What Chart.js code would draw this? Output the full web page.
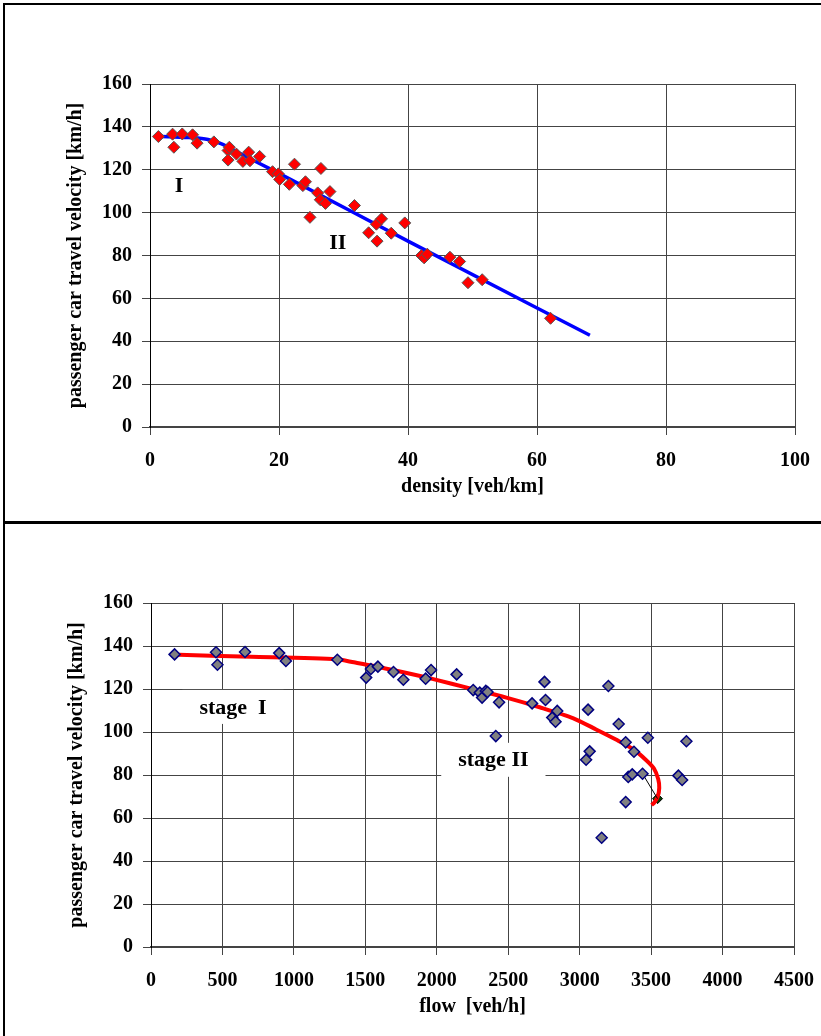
<!DOCTYPE html>
<html>
<head>
<meta charset="utf-8">
<script src="https://cdn.jsdelivr.net/npm/chart.js@4.4.0/dist/chart.umd.min.js"></script>
<style>
  html, body { margin: 0; padding: 0; background: #fff; overflow: hidden; }
  body { width: 821px; height: 1036px; position: relative; }
  canvas { position: absolute; left: 0; }
  .rule { position: absolute; background: #000; }
</style>
</head>
<body>
<canvas id="densityChart" width="821" height="520" style="top:0"></canvas>
<canvas id="flowChart" width="821" height="516" style="top:520px"></canvas>
<div class="rule" style="left:3px;top:3px;width:818px;height:2px"></div>
<div class="rule" style="left:3px;top:3px;width:2px;height:1033px"></div>
<div class="rule" style="left:3px;top:521px;width:818px;height:3px"></div>
<script>
// measured points, speed vs density
const densityK = [1.3, 3.5, 3.7, 5.0, 6.6, 7.3, 9.9, 12.1, 12.3, 12.1, 13.4, 14.4, 15.3, 15.5, 17.0,
  19.0, 19.9, 20.1, 21.6, 22.4, 23.7, 24.1, 24.8, 26.0, 26.4, 26.5, 27.2, 27.9, 31.7, 33.9,
  35.1, 35.2, 35.9, 37.4, 39.5, 42.1, 42.5, 43.0, 46.5, 48.0, 49.3, 51.5, 62.1];
const densityV = [135.5, 136.6, 130.5, 136.7, 136.3, 132.4, 133.0, 129.0, 130.5, 124.5, 127.3, 123.9, 128.2, 124.2, 126.2,
  119.1, 118.1, 115.5, 113.2, 122.6, 112.6, 114.4, 97.8, 109.2, 106.0, 120.6, 104.3, 109.8, 103.3, 90.6,
  94.6, 86.7, 97.1, 90.4, 95.2, 80.0, 78.9, 80.6, 79.2, 77.2, 67.3, 68.7, 50.7];

// fitted speed-density line
const fitK = [1.2, 6, 9, 11, 14, 20, 40, 68.2];
const fitKV = [135.6, 135.0, 134.1, 132.2, 127.5, 118.3, 86.7, 42.8];

// measured points, speed vs flow
const flowQ = [165, 455, 465, 658, 897, 944, 1304, 1506, 1539, 1588, 1697, 1766, 1922, 1960, 2139,
  2255, 2301, 2317, 2343, 2355, 2413, 2436, 2667, 2754, 2761, 2808, 2831, 2843, 3045, 3059,
  3070, 3154, 3201, 3273, 3322, 3322, 3340, 3368, 3380, 3440, 3477, 3691, 3717, 3747];
const flowV = [136.1, 137.1, 131.3, 137.2, 136.7, 133.0, 133.6, 125.3, 129.3, 130.4, 127.9, 124.3, 124.8, 128.8, 126.8,
  119.5, 118.3, 116.0, 119.1, 118.6, 98.1, 113.8, 113.3, 123.3, 114.9, 106.7, 104.8, 109.8, 87.1, 110.4,
  91.0, 50.8, 121.4, 103.7, 95.2, 67.4, 79.1, 80.3, 90.8, 80.6, 97.3, 79.7, 77.7, 95.7];

// fitted speed-flow curve
const fitQ = [140, 700, 1300, 1420, 1560, 1750, 1976, 2232, 2487, 2720, 2952, 3115, 3254, 3371, 3464, 3520, 3550, 3557, 3546, 3520, 3503];
const fitQV = [136.0, 135.0, 133.8, 132.4, 130.7, 128.0, 124.6, 120.3, 116.0, 111.5, 106.5, 101.2, 96.5, 92.2, 87.0, 83.0, 78.0, 74.0, 69.8, 67.0, 66.0];

// capacity point and its leader line
const capQ = [3545];
const capV = [69];
const leaderQ = [3440, 3545];
const leaderV = [80.6, 69];

const velocityTicks = [0, 160, 20];
const densityTicks = [0, 100, 20];
const flowTicks = [0, 4500, 500];

const serif = '"Liberation Serif", "Times New Roman", serif';
const zip = (xs, ys) => xs.map((x, i) => ({ x: x, y: ys[i] }));

const regionLabels = {
  id: 'regionLabels',
  beforeDatasetsDraw(chart, args, opts) {
    const ctx = chart.ctx;
    const xs = chart.scales.x, ys = chart.scales.y;
    (opts.items || []).forEach(item => {
      const px = xs.getPixelForValue(item.x);
      const py = ys.getPixelForValue(item.y);
      ctx.save();
      ctx.font = 'bold 22px ' + serif;
      ctx.textAlign = 'center';
      ctx.textBaseline = 'middle';
      if (item.box) {
        const w = ctx.measureText(item.text).width + 34;
        ctx.fillStyle = '#fff';
        ctx.fillRect(px - w / 2, py - 18, w, 34);
      }
      ctx.fillStyle = '#000';
      ctx.fillText(item.text, px, py);
      ctx.restore();
    });
  }
};

// pin the axis boxes so the plot area lands where the original has it
function fixSize(px) {
  return scale => {
    if (scale.isHorizontal()) {
      scale.height = px;
      scale.paddingLeft = 0;
      scale.paddingRight = 0;
    } else {
      scale.width = px;
      scale.paddingTop = 0;
      scale.paddingBottom = 0;
    }
  };
}

function axes(xTicks, xTitle, xHeight) {
  const tickFont = { family: serif, size: 20, weight: 'bold' };
  const titleFont = { family: serif, size: 20, weight: 'bold' };
  return {
    x: {
      type: 'linear',
      min: xTicks[0], max: xTicks[1],
      ticks: { stepSize: xTicks[2], color: '#000', font: tickFont, padding: 14, maxRotation: 0, callback: v => String(v) },
      grid: { color: '#444', lineWidth: 1, tickLength: 8 },
      border: { color: '#444', width: 2 },
      title: { display: true, text: xTitle, color: '#000', font: titleFont, padding: 0 },
      afterFit: fixSize(xHeight)
    },
    y: {
      type: 'linear',
      min: velocityTicks[0], max: velocityTicks[1],
      ticks: { stepSize: velocityTicks[2], color: '#000', font: tickFont, padding: 10, callback: v => String(v) },
      grid: { color: '#444', lineWidth: 1, tickLength: 8 },
      border: { color: '#000', width: 1 },
      title: { display: true, text: 'passenger car travel velocity [km/h]', color: '#000', font: titleFont, padding: 0 },
      afterFit: fixSize(86)
    }
  };
}

new Chart(document.getElementById('densityChart'), {
  type: 'scatter',
  data: {
    datasets: [
      {
        data: zip(densityK, densityV),
        pointStyle: 'rectRot',
        pointRadius: 6,
        backgroundColor: '#ff0000',
        borderColor: '#555',
        borderWidth: 1
      },
      {
        data: zip(fitK, fitKV),
        showLine: true,
        borderColor: '#0000ff',
        borderWidth: 3.5,
        cubicInterpolationMode: 'monotone',
        pointRadius: 0
      }
    ]
  },
  options: {
    responsive: false,
    animation: false,
    layout: { padding: { left: 64, right: 26, top: 84, bottom: 21 } },
    scales: axes(densityTicks, 'density [veh/km]', 72),
    plugins: {
      legend: { display: false },
      tooltip: { enabled: false },
      regionLabels: {
        items: [
          { text: 'I', x: 4.5, y: 112.4 },
          { text: 'II', x: 29.1, y: 85.8 }
        ]
      }
    }
  },
  plugins: [regionLabels]
});

new Chart(document.getElementById('flowChart'), {
  type: 'scatter',
  data: {
    datasets: [
      {
        data: zip(flowQ, flowV),
        pointStyle: 'rectRot',
        pointRadius: 5.5,
        backgroundColor: '#808080',
        borderColor: '#000080',
        borderWidth: 1.5
      },
      {
        data: zip(leaderQ, leaderV),
        showLine: true,
        borderColor: '#000',
        borderWidth: 1,
        pointRadius: 0
      },
      {
        data: zip(fitQ, fitQV),
        showLine: true,
        borderColor: '#ff0000',
        borderWidth: 4,
        tension: 0.25,
        pointRadius: 0
      },
      {
        data: zip(capQ, capV),
        pointStyle: 'rectRot',
        pointRadius: 5,
        backgroundColor: '#004000',
        borderColor: '#000',
        borderWidth: 1
      }
    ]
  },
  options: {
    responsive: false,
    animation: false,
    layout: { padding: { left: 65, right: 27, top: 83, bottom: 17 } },
    scales: axes(flowTicks, 'flow  [veh/h]', 72),
    plugins: {
      legend: { display: false },
      tooltip: { enabled: false },
      regionLabels: {
        items: [
          { text: 'stage  I', x: 574, y: 111.2, box: true },
          { text: 'stage II', x: 2396, y: 86.6, box: true }
        ]
      }
    }
  },
  plugins: [regionLabels]
});
</script>
</body>
</html>
